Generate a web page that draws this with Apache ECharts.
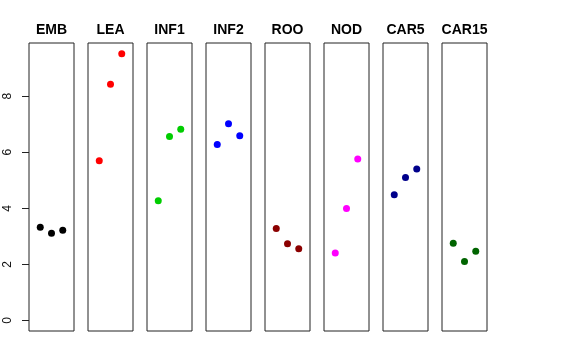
<!DOCTYPE html>
<html><head><meta charset="utf-8">
<script src="https://cdn.jsdelivr.net/npm/echarts@6/dist/echarts.min.js"></script>
<style>html,body{margin:0;padding:0;background:#fff}#c{width:576px;height:360px}</style>
</head><body><div id="c"></div>
<script>
const categories = ["EMB","LEA","INF1","INF2","ROO","NOD","CAR5","CAR15"];
const replicate = [1, 2, 3];
const EMB = [3.32, 3.11, 3.22];
const LEA = [5.70, 8.43, 9.52];
const INF1 = [4.27, 6.56, 6.82];
const INF2 = [6.28, 7.02, 6.59];
const ROO = [3.28, 2.73, 2.56];
const NOD = [2.40, 3.99, 5.76];
const CAR5 = [4.48, 5.10, 5.40];
const CAR15 = [2.75, 2.10, 2.47];
const yTicks = [0, 2, 4, 6, 8];
const seriesValues = [EMB, LEA, INF1, INF2, ROO, NOD, CAR5, CAR15];

const colors = ["#000000","#ff0000","#00cd00","#0000ff","#8b0000","#ff00ff","#00008b","#006400"];
const yMin = -0.38, yMax = 9.9;
const font = "'Liberation Sans', Arial, sans-serif";

const grids = [], xAxes = [], yAxes = [], series = [], graphics = [];
categories.forEach((cat, i) => {
  const left = 29 + 59 * i;
  grids.push({left: left, top: 43, width: 45, height: 288, show: true,
    borderColor: '#222', borderWidth: 1, backgroundColor: 'transparent'});
  xAxes.push({type: 'value', gridIndex: i, min: 0, max: 4, show: false});
  yAxes.push({type: 'value', gridIndex: i, min: yMin, max: yMax, show: i === 0,
    splitLine: {show: false},
    axisLine: {show: false},
    axisTick: {show: true, length: 7, customValues: yTicks, lineStyle: {color: '#222'}},
    axisLabel: {show: true, customValues: yTicks, rotate: 90, margin: 15,
      color: '#111', fontSize: 12, fontFamily: font}});
  series.push({type: 'scatter', xAxisIndex: i, yAxisIndex: i,
    symbol: 'circle', symbolSize: 7, itemStyle: {color: colors[i], opacity: 1},
    data: replicate.map((r, k) => [r, seriesValues[i][k]])});
  graphics.push({type: 'text', x: left + 22.5, y: 30,
    style: {text: cat, textAlign: 'center', textVerticalAlign: 'middle',
      font: "bold 14px " + font, fill: '#000'}});
});

const chart = echarts.init(document.getElementById('c'), null, {renderer: 'canvas'});
chart.setOption({animation: false, grid: grids, xAxis: xAxes, yAxis: yAxes, series: series, graphic: graphics});
</script></body></html>
